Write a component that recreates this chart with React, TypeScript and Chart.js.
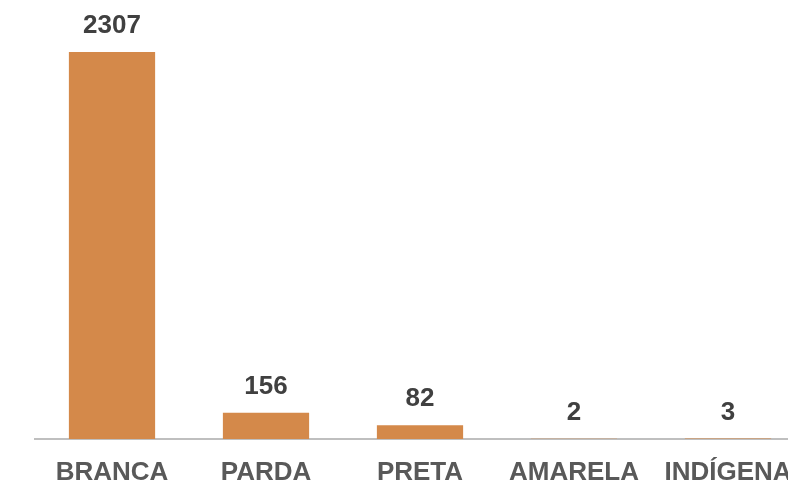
import React, { useEffect, useRef } from "react";
import { Chart, registerables } from "chart.js";

Chart.register(...registerables);

const categories = ["BRANCA", "PARDA", "PRETA", "AMARELA", "INDÍGENA"];
const values = [2307, 156, 82, 2, 3];

const valueLabels = {
  id: "valueLabels",
  afterDatasetsDraw(chart: any) {
    const ctx = chart.ctx;
    const meta = chart.getDatasetMeta(0);
    ctx.save();
    ctx.font = "bold 26px 'Liberation Sans', Arial, sans-serif";
    ctx.fillStyle = "#404040";
    ctx.textAlign = "center";
    ctx.textBaseline = "middle";
    meta.data.forEach((el: any, i: number) => {
      ctx.fillText(String(values[i]), el.x, el.y - 26);
    });
    ctx.restore();
  },
};

export default function App() {
  const ref = useRef<HTMLCanvasElement | null>(null);
  useEffect(() => {
    if (!ref.current) return;
    const chart = new Chart(ref.current, {
      type: "bar",
      data: {
        labels: categories,
        datasets: [
          {
            data: values,
            backgroundColor: "#D4894A",
            borderWidth: 0,
            barPercentage: 0.56,
            categoryPercentage: 1,
          },
        ],
      },
      options: {
        animation: false,
        responsive: false,
        maintainAspectRatio: false,
        layout: { padding: { top: 10, left: 35, right: 25, bottom: 0 } },
        plugins: { legend: { display: false }, tooltip: { enabled: false } },
        scales: {
          y: { display: false, min: 0, max: 2557 },
          x: {
            grid: { display: false, drawTicks: false },
            border: { display: true, color: "#BFBFBF", width: 2 },
            ticks: {
              color: "#595959",
              padding: 18,
              maxRotation: 0,
              autoSkip: false,
              font: { family: "'Liberation Sans', Arial, sans-serif", size: 26, weight: "bold" },
            },
            afterFit: (axis: any) => {
              axis.height = 47;
            },
          },
        },
      },
      plugins: [valueLabels],
    });
    return () => chart.destroy();
  }, []);
  return (
    <div style={{ position: "fixed", left: 0, top: 0, width: 788, height: 486, overflow: "hidden", background: "#fff" }}>
      <canvas ref={ref} width={830} height={486} style={{ display: "block" }} />
    </div>
  );
}
